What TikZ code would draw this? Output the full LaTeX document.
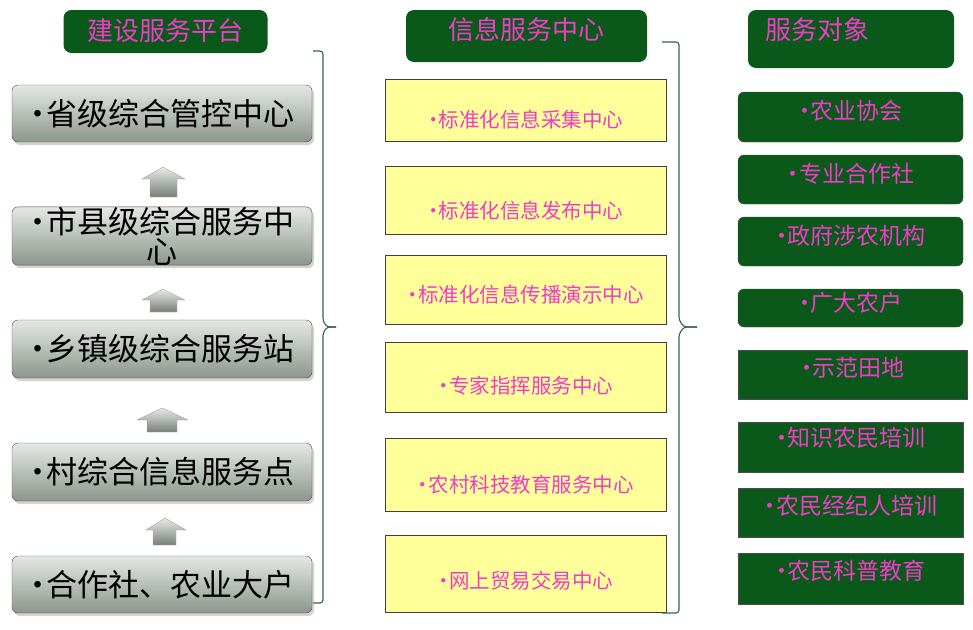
\documentclass[tikz,border=0pt]{standalone}
\usepackage{fontspec}
\newfontfamily\cjk{Noto Sans CJK SC}
\usepackage{tikz}
\usetikzlibrary{shadows}
\definecolor{darkgreen}{RGB}{10,88,26}
\definecolor{pinktxt}{RGB}{240,60,200}
\definecolor{paleyellow}{RGB}{255,255,153}
\definecolor{bracegreen}{RGB}{50,100,75}
\definecolor{boxtop}{RGB}{228,232,228}
\definecolor{boxbot}{RGB}{140,150,140}
\newcommand\dotmark{\makebox[.55em]{•}}

\begin{document}
\begin{tikzpicture}[x=1pt,y=-1pt,
  titlebox/.style={fill=darkgreen,rounded corners=8pt,inner sep=0pt},
  titletxt/.style={text=pinktxt,inner sep=0pt,font=\cjk\fontsize{26}{26}\selectfont},
  graybox/.style={draw=gray!60!black,rounded corners=6pt,top color=boxtop,bottom color=boxbot,
    drop shadow={opacity=.35,shadow xshift=2pt,shadow yshift=-3pt},
    minimum width=300pt,inner sep=0pt,font=\cjk\fontsize{31}{30}\selectfont},
  yellowbox/.style={draw=black!75,fill=paleyellow,minimum width=281pt,inner sep=0pt},
  midtxt/.style={text=pinktxt,inner sep=0pt,font=\cjk\fontsize{20.5}{20.5}\selectfont},
  greenbox/.style={draw=black!70,fill=darkgreen,minimum width=225pt,inner sep=0pt},
  greenrbox/.style={greenbox,rounded corners=6pt},
  righttxt/.style={text=pinktxt,inner sep=0pt,font=\cjk\fontsize{23}{23}\selectfont},
  blockarrow/.style={draw=gray!70,top color=boxtop!90!white,bottom color=boxbot!85!black},
  bracket/.style={draw=bracegreen,line width=1.1pt,rounded corners=3pt}]
  \useasboundingbox (0,0) rectangle (973,629);

  % titles
  \node[titlebox,minimum width=204pt,minimum height=43pt,
    label={[titletxt,yshift=1pt]center:建设服务平台}] (t1) at (165.5,31.5) {};
  \node[titlebox,minimum width=241pt,minimum height=52pt,
    label={[titletxt,yshift=6pt]center:信息服务中心}] (t2) at (526.5,36) {};
  \node[titlebox,minimum width=206pt,minimum height=58pt,
    label={[titletxt,anchor=west,xshift=17pt,yshift=9pt]west:服务对象}] (t3) at (851,39) {};

  % left column
  \node[graybox,minimum height=57pt] (l1) at (162,113.5) {\dotmark 省级综合管控中心};
  \node[graybox,minimum height=58pt,text width=285pt,align=center] (l2) at (162,236) {\dotmark 市县级综合服务中\\心};
  \node[graybox,minimum height=58pt] (l3) at (162,349) {\dotmark 乡镇级综合服务站};
  \node[graybox,minimum height=58pt] (l4) at (162,472) {\dotmark 村综合信息服务点};
  \node[graybox,minimum height=57pt] (l5) at (162,584.5) {\dotmark 合作社、农业大户};

  \draw[blockarrow] (163,167) -- (185,179) -- (177,179) -- (177,197) -- (150,197) -- (150,179) -- (142,179) -- cycle;
  \draw[blockarrow] (163,289) -- (185,300) -- (177,300) -- (177,312) -- (150,312) -- (150,300) -- (142,300) -- cycle;
  \draw[blockarrow] (162,408) -- (188,420) -- (177,420) -- (177,432) -- (147,432) -- (147,420) -- (137,420) -- cycle;
  \draw[blockarrow] (165,518) -- (186,530) -- (176,530) -- (176,545) -- (153,545) -- (153,530) -- (146,530) -- cycle;

  \draw[bracket] (313,51) -| (323,321) -- (327,327) -- (336,327);
  \draw[bracket] (336,327) -- (327,327) -- (323,333) |- (313,603);

  % middle column
  \node[yellowbox,minimum height=62pt,label={[midtxt,yshift=-10pt]center:\dotmark 标准化信息采集中心}] (m1) at (525.5,110) {};
  \node[yellowbox,minimum height=68pt,label={[midtxt,yshift=-11pt]center:\dotmark 标准化信息发布中心}] (m2) at (525.5,200) {};
  \node[yellowbox,minimum height=69pt,label={[midtxt,yshift=-5pt]center:\dotmark 标准化信息传播演示中心}] (m3) at (525.5,289.5) {};
  \node[yellowbox,minimum height=70pt,label={[midtxt,yshift=-9pt]center:\dotmark 专家指挥服务中心}] (m4) at (525.5,377) {};
  \node[yellowbox,minimum height=73pt,label={[midtxt,yshift=-10pt]center:\dotmark 农村科技教育服务中心}] (m5) at (525.5,474.5) {};
  \node[yellowbox,minimum height=77pt,label={[midtxt,yshift=-7pt]center:\dotmark 网上贸易交易中心}] (m6) at (525.5,573.5) {};

  \draw[bracket] (662,42) -| (679,320) -- (684,327) -- (697,327);
  \draw[bracket] (697,327) -- (684,327) -- (679,334) |- (662,613);

  % right column
  \node[greenrbox,minimum height=50pt,label={[righttxt,yshift=6pt]center:\dotmark 农业协会}] (r1) at (850.5,117) {};
  \node[greenrbox,minimum height=49pt,label={[righttxt,yshift=6pt]center:\dotmark 专业合作社}] (r2) at (850.5,179.5) {};
  \node[greenrbox,minimum height=49pt,label={[righttxt,yshift=6pt]center:\dotmark 政府涉农机构}] (r3) at (850.5,241.5) {};
  \node[greenrbox,minimum height=38pt,label={[righttxt,yshift=5pt]center:\dotmark 广大农户}] (r4) at (850.5,308) {};
  \node[greenbox,minimum width=229pt,minimum height=49pt,label={[righttxt,yshift=7pt]center:\dotmark 示范田地}] (r5) at (852.5,374.5) {};
  \node[greenbox,minimum height=50pt,label={[righttxt,yshift=9pt]center:\dotmark 知识农民培训}] (r6) at (850.5,447) {};
  \node[greenbox,minimum height=49pt,label={[righttxt,yshift=7pt]center:\dotmark 农民经纪人培训}] (r7) at (850.5,512.5) {};
  \node[greenbox,minimum height=51pt,label={[righttxt,yshift=8pt]center:\dotmark 农民科普教育}] (r8) at (850.5,578.5) {};
\end{tikzpicture}
\end{document}
